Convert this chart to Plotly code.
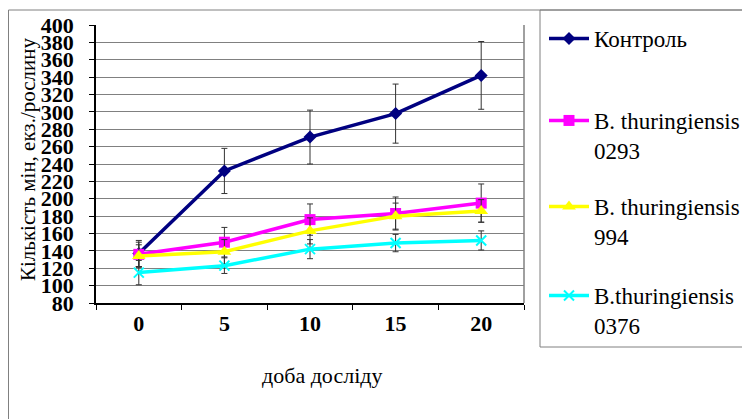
import plotly.graph_objects as go

days = ["0", "5", "10", "15", "20"]
series_names = ["Контроль", "B. thuringiensis<br>0293", "B. thuringiensis<br>994", "B.thuringiensis<br>0376"]
control = [137, 232, 271, 298, 342]
control_err = [15, 26, 31, 34, 39]
bt0293 = [136, 150, 176, 183, 195]
bt0293_err = [14, 17, 18, 19, 22]
bt994 = [134, 139, 163, 180, 186]
bt994_err = [13, 14, 15, 15, 13]
bt0376 = [115, 123, 142, 149, 152]
bt0376_err = [14, 9, 11, 10, 11]

values = [control, bt0293, bt994, bt0376]
errors = [control_err, bt0293_err, bt994_err, bt0376_err]
colors = ["#000080", "#FF00FF", "#FFFF00", "#00FFFF"]
symbols = ["diamond", "square", "triangle-up", "x-thin-open"]
msizes = [10, 11, 12, 10]

# page is shown with an 8px body margin; figure coords = page coords - 8
W, H = 750, 419
L, R, T, B = 88, 516, 17, 295
PW, PH = R - L, B - T

def px(x):
    return (x - L) / PW

def py(y):
    return (B - y) / PH

FONT = "Liberation Serif, Times New Roman, serif"
fig = go.Figure()
legend_tops = [9, 91, 177, 266]
for i in range(4):
    mk = dict(symbol=symbols[i], size=msizes[i], color=colors[i])
    if symbols[i].startswith("x"):
        mk["line"] = dict(color=colors[i], width=2)
    fig.add_trace(go.Scatter(
        x=days, y=values[i], name=series_names[i], mode="lines+markers",
        line=dict(color=colors[i], width=3.5), marker=mk,
        error_y=dict(type="data", array=errors[i], visible=True,
                     color="#333333", thickness=1, width=3),
        legend="legend" if i == 0 else f"legend{i+1}",
    ))

layout_legends = {}
for i in range(4):
    key = "legend" if i == 0 else f"legend{i+1}"
    layout_legends[key] = dict(
        x=px(536), y=py(legend_tops[i]), xanchor="left", yanchor="top",
        bgcolor="rgba(0,0,0,0)", borderwidth=0, valign="top",
        font=dict(family=FONT, size=23, color="black"), itemwidth=40,
    )

fig.update_layout(
    width=W, height=H, autosize=False,
    margin=dict(l=L, r=W - R, t=T, b=H - B, pad=0, autoexpand=False),
    paper_bgcolor="white", plot_bgcolor="white",
    font=dict(family=FONT, color="black"),
    showlegend=True,
    **layout_legends,
)
fig.update_xaxes(
    type="category", tickson="boundaries", ticks="outside", ticklen=5,
    tickcolor="black", showline=True, linecolor="black", linewidth=1.5,
    showgrid=False, tickfont=dict(family=FONT, size=22, color="black", weight="bold"),
    range=[-0.5, 4.5], automargin=False,
)
fig.update_yaxes(
    range=[80, 400], dtick=20, tick0=80, ticks="outside", ticklen=5,
    tickcolor="black", showline=True, linecolor="black", linewidth=1.5,
    showgrid=True, gridcolor="#808080", gridwidth=1,
    tickfont=dict(family=FONT, size=22, color="black", weight="bold"),
    ticksuffix="\u00a0\u00a0", zeroline=False, automargin=False,
)
# plot area right border
fig.add_shape(type="line", xref="paper", yref="paper", x0=1, x1=1, y0=0, y1=1,
              line=dict(color="#808080", width=1.5))
# outer chart border
fig.add_shape(type="line", xref="paper", yref="paper", x0=px(0.5), x1=px(760), y0=py(2), y1=py(2),
              line=dict(color="#808080", width=1))
fig.add_shape(type="line", xref="paper", yref="paper", x0=px(0.5), x1=px(0.5), y0=py(2), y1=py(430),
              line=dict(color="#808080", width=1))
# legend box
fig.add_shape(type="rect", xref="paper", yref="paper", x0=px(532), x1=px(770), y0=py(2), y1=py(339),
              line=dict(color="#808080", width=1), fillcolor="rgba(0,0,0,0)", layer="below")
fig.add_annotation(text="доба досліду", xref="paper", yref="paper", x=px(314), y=py(367),
                   xanchor="center", yanchor="middle",
                   showarrow=False, font=dict(family=FONT, size=22, color="black"))
fig.add_annotation(text="Кількість мін, екз./рослину", xref="paper", yref="paper", x=px(20), y=py(151),
                   xanchor="center", yanchor="middle",
                   showarrow=False, textangle=-90, font=dict(family=FONT, size=21, color="black"))

fig.write_html("out.html")
